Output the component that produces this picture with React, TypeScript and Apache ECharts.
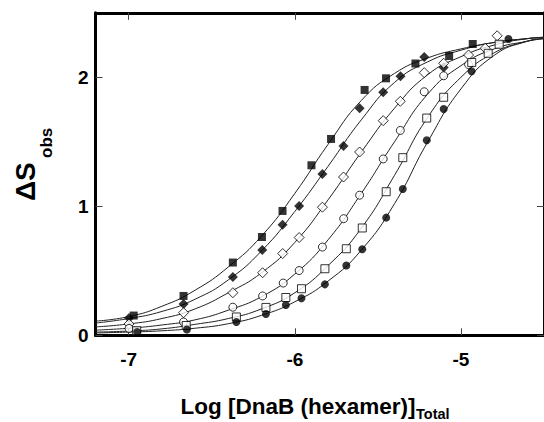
import React, { useEffect, useRef } from "react";
import * as echarts from "echarts";

// ---- axis ticks ----
const xTickValues = [-7, -6, -5];
const yTickValues = [0, 1, 2];

// ---- measured points: log[DnaB] (x) and ΔS_obs (y) ----
const filledSquareX = [-6.97, -6.67, -6.373, -6.198, -6.074, -5.9, -5.782, -5.58, -5.451, -5.274, -5.071, -4.929];
const filledSquareY = [0.153, 0.305, 0.564, 0.762, 0.964, 1.318, 1.522, 1.902, 1.992, 2.107, 2.165, 2.258];

const filledDiamondX = [-6.998, -6.67, -6.373, -6.196, -6.074, -5.974, -5.834, -5.707, -5.61, -5.468, -5.364, -5.221, -5.104];
const filledDiamondY = [0.134, 0.243, 0.452, 0.661, 0.857, 1.002, 1.25, 1.467, 1.76, 1.884, 2.008, 2.157, 2.076];

const openDiamondX = [-6.998, -6.67, -6.373, -6.194, -6.073, -5.974, -5.834, -5.707, -5.61, -5.468, -5.365, -5.221, -5.104, -4.954, -4.854, -4.782];
const openDiamondY = [0.088, 0.175, 0.33, 0.485, 0.634, 0.758, 0.993, 1.227, 1.421, 1.664, 1.814, 2.036, 2.109, 2.173, 2.225, 2.322];

const openCircleX = [-6.998, -6.67, -6.373, -6.194, -6.07, -5.974, -5.834, -5.706, -5.61, -5.468, -5.365, -5.221, -5.104, -4.954];
const openCircleY = [0.053, 0.103, 0.218, 0.305, 0.405, 0.502, 0.684, 0.904, 1.086, 1.367, 1.588, 1.888, 2.012, 2.099];

const openSquareX = [-6.952, -6.654, -6.352, -6.174, -6.054, -5.96, -5.819, -5.69, -5.594, -5.45, -5.35, -5.206, -5.104, -4.935, -4.836, -4.77];
const openSquareY = [0.036, 0.076, 0.142, 0.216, 0.293, 0.361, 0.516, 0.671, 0.832, 1.113, 1.377, 1.684, 1.845, 2.115, 2.186, 2.256];

const filledCircleX = [-6.949, -6.65, -6.352, -6.174, -6.054, -5.96, -5.819, -5.69, -5.594, -5.45, -5.35, -5.206, -5.104, -4.936, -4.714];
const filledCircleY = [0.026, 0.045, 0.103, 0.165, 0.235, 0.287, 0.395, 0.541, 0.667, 0.912, 1.134, 1.512, 1.754, 2.047, 2.297];

// ---- fitted curves at these x values ----
const curveX = [-7.2, -7.0, -6.8, -6.6, -6.4, -6.2, -6.0, -5.8, -5.6, -5.4, -5.2, -5.0, -4.8, -4.6, -4.5];
const fitFilledSquare = [0.11, 0.145, 0.225, 0.35, 0.53, 0.77, 1.1, 1.48, 1.82, 2.03, 2.15, 2.22, 2.27, 2.3, 2.31];
const fitFilledDiamond = [0.095, 0.13, 0.185, 0.28, 0.43, 0.655, 0.96, 1.31, 1.67, 1.96, 2.12, 2.21, 2.27, 2.3, 2.31];
const fitOpenDiamond = [0.065, 0.088, 0.13, 0.205, 0.33, 0.485, 0.72, 1.05, 1.42, 1.76, 2.02, 2.16, 2.25, 2.3, 2.31];
const fitOpenCircle = [0.04, 0.055, 0.08, 0.12, 0.195, 0.3, 0.475, 0.74, 1.1, 1.5, 1.87, 2.09, 2.22, 2.28, 2.3];
const fitOpenSquare = [0.025, 0.033, 0.05, 0.085, 0.13, 0.205, 0.33, 0.54, 0.83, 1.24, 1.69, 2.0, 2.19, 2.28, 2.3];
const fitFilledCircle = [0.018, 0.025, 0.035, 0.055, 0.09, 0.155, 0.26, 0.42, 0.66, 1.02, 1.5, 1.91, 2.17, 2.28, 2.3];

const FONT = '"Liberation Sans", Arial, Helvetica, sans-serif';

const zip = (xs: number[], ys: number[]) => xs.map((x, i) => [x, ys[i]]);

export default function App() {
  const ref = useRef<HTMLDivElement>(null);

  useEffect(() => {
    if (!ref.current) return;
    const chart = echarts.init(ref.current, null, { renderer: "svg" });

    const fits = [fitFilledSquare, fitFilledDiamond, fitOpenDiamond, fitOpenCircle, fitOpenSquare, fitFilledCircle];
    const lineSeries = fits.map((f) => ({
      type: "line",
      data: zip(curveX, f),
      showSymbol: false,
      smooth: 0.5,
      lineStyle: { color: "#222", width: 1 },
      z: 2,
      silent: true,
    }));

    const filled = { color: "#000", borderColor: "#000", borderWidth: 0 };
    const open = { color: "#fff", borderColor: "#000", borderWidth: 1 };
    const scatter = (d: number[][], symbol: string, size: number, style: any) => ({
      type: "scatter",
      data: d,
      symbol,
      symbolSize: size,
      itemStyle: style,
      z: 3,
    });

    const axisLine = { show: true, onZero: false, lineStyle: { color: "#000", width: 3 } };
    const tickStyle = { color: "#444", width: 1 };

    chart.setOption({
      animation: false,
      backgroundColor: "#fff",
      grid: { left: 95.5, top: 12.8, width: 450, height: 322.5 },
      xAxis: [
        {
          type: "value",
          min: -7.2,
          max: -4.5,
          position: "bottom",
          axisLine,
          splitLine: { show: false },
          axisTick: { show: true, inside: true, length: 7, lineStyle: tickStyle, customValues: xTickValues },
          axisLabel: {
            show: true,
            customValues: xTickValues,
            margin: 15,
            color: "#000",
            fontFamily: FONT,
            fontWeight: "bold",
            fontSize: 19,
          },
        },
        {
          type: "value",
          min: -7.2,
          max: -4.5,
          position: "top",
          axisLine,
          splitLine: { show: false },
          axisTick: { show: true, inside: true, length: 7, lineStyle: tickStyle, customValues: xTickValues },
          axisLabel: { show: false },
        },
      ],
      yAxis: [
        {
          type: "value",
          min: 0,
          max: 2.5,
          position: "left",
          axisLine,
          splitLine: { show: false },
          axisTick: { show: true, inside: true, length: 7, lineStyle: tickStyle, customValues: yTickValues },
          axisLabel: {
            show: true,
            customValues: yTickValues,
            margin: 7,
            color: "#000",
            fontFamily: FONT,
            fontWeight: "bold",
            fontSize: 19,
          },
        },
        {
          type: "value",
          min: 0,
          max: 2.5,
          position: "right",
          axisLine,
          splitLine: { show: false },
          axisTick: { show: true, inside: true, length: 7, lineStyle: tickStyle, customValues: yTickValues },
          axisLabel: { show: false },
        },
      ],
      series: [
        ...lineSeries,
        scatter(zip(filledSquareX, filledSquareY), "rect", 8, filled),
        scatter(zip(filledDiamondX, filledDiamondY), "diamond", 10, filled),
        scatter(zip(openDiamondX, openDiamondY), "diamond", 10, open),
        scatter(zip(openCircleX, openCircleY), "circle", 8, open),
        scatter(zip(openSquareX, openSquareY), "rect", 8, open),
        scatter(zip(filledCircleX, filledCircleY), "circle", 8, filled),
      ],
      graphic: [
        {
          type: "text",
          x: 180.5,
          y: 406,
          style: {
            text: "Log [DnaB (hexamer)]",
            font: `bold 22.5px ${FONT}`,
            fill: "#000",
            align: "left",
            verticalAlign: "middle",
          },
        },
        {
          type: "text",
          x: 416,
          y: 413.5,
          style: {
            text: "Total",
            font: `bold 14.5px ${FONT}`,
            fill: "#000",
            align: "left",
            verticalAlign: "middle",
          },
        },
        {
          type: "text",
          x: 25.5,
          y: 201,
          rotation: Math.PI / 2,
          style: {
            text: "ΔS",
            font: `bold 28px ${FONT}`,
            fill: "#000",
            align: "left",
            verticalAlign: "middle",
          },
        },
        {
          type: "text",
          x: 46.5,
          y: 158,
          rotation: Math.PI / 2,
          style: {
            text: "obs",
            font: `bold 17px ${FONT}`,
            fill: "#000",
            align: "left",
            verticalAlign: "middle",
          },
        },
      ],
    });

    return () => chart.dispose();
  }, []);

  return (
    <div
      ref={ref}
      style={{ position: "fixed", left: 0, top: 0, width: 544, height: 422, background: "#fff" }}
    />
  );
}
